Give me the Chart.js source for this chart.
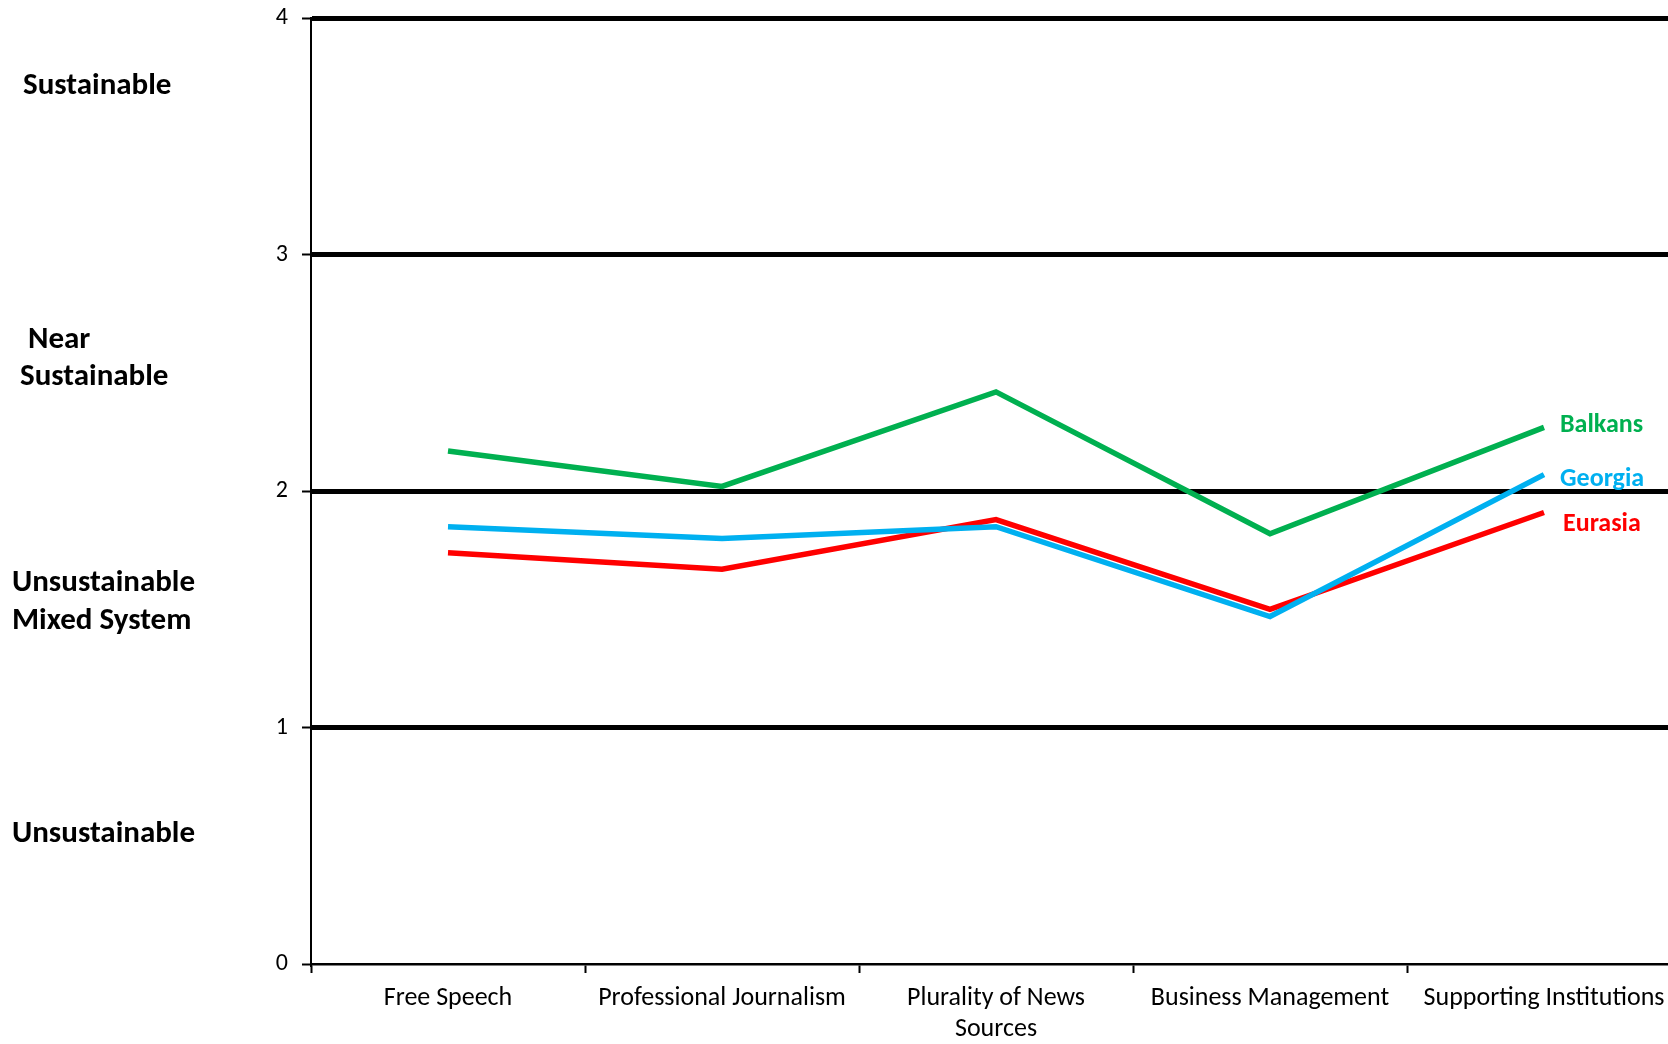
<!DOCTYPE html>
<html>
<head>
<meta charset="utf-8">
<script src="https://cdn.jsdelivr.net/npm/chart.js@4.4.0/dist/chart.umd.min.js"></script>
<style>
  html, body { margin: 0; padding: 0; background: #fff; overflow: hidden; }
  #wrap { width: 1668px; height: 1044px; overflow: hidden; }
  canvas { display: block; margin-top: -10px; }
</style>
</head>
<body>
<div id="wrap"><canvas id="myChart" width="1690" height="1054"></canvas></div>
<script>
// categories along the bottom
let categories = ['Free Speech', 'Professional Journalism', ['Plurality of News', 'Sources'], 'Business Management', 'Supporting Institutions'];

// scores
let balkans = [2.17, 2.02, 2.42, 1.82, 2.27];
let georgia = [1.85, 1.80, 1.85, 1.47, 2.07];
let eurasia = [1.74, 1.67, 1.88, 1.50, 1.91];

let yTicks = [0, 1, 2, 3, 4];

// band names on the left
let bandNames = [['Sustainable'], ['Near', 'Sustainable'], ['Unsustainable', 'Mixed System'], ['Unsustainable']];

let fontFamily = "Carlito, Lato, 'Open Sans', sans-serif";

// draws the band names and the series names at the line ends
let labelPlugin = {
    id: 'labels',
    afterDraw(chart) {
        let ctx = chart.ctx;
        let y = chart.scales.y;
        ctx.save();
        ctx.fillStyle = '#000';
        ctx.font = 'bold 31px ' + fontFamily;
        ctx.textBaseline = 'middle';
        ctx.textAlign = 'left';
        // value where each line of the band names sits, and its left edge
        let bandPos = [[3.72], [2.647, 2.49], [1.62, 1.46], [0.557]];
        let bandX = [[23], [28, 20], [12, 12], [12]];
        bandNames.forEach((lines, i) => {
            lines.forEach((t, j) => {
                ctx.fillText(t, bandX[i][j], y.getPixelForValue(bandPos[i][j]) + 2);
            });
        });

        ctx.font = 'bold 26px ' + fontFamily;
        let nudge = [-2, 5, 12];
        chart.data.datasets.forEach((ds, i) => {
            let meta = chart.getDatasetMeta(i);
            let last = meta.data[meta.data.length - 1];
            ctx.fillStyle = ds.borderColor;
            ctx.fillText(ds.label, last.x + (i == 2 ? 19 : 16), last.y + nudge[i]);
        });
        ctx.restore();
    }
};

var ctx = document.getElementById('myChart').getContext('2d');
var chart = new Chart(ctx, {
    type: 'line',
    data: {
        labels: categories,
        datasets: [
            { label: 'Balkans', data: balkans, borderColor: '#00b050', borderWidth: 5.5, pointRadius: 0, tension: 0 },
            { label: 'Georgia', data: georgia, borderColor: '#00b0f0', borderWidth: 5.5, pointRadius: 0, tension: 0 },
            { label: 'Eurasia', data: eurasia, borderColor: '#ff0000', borderWidth: 5.5, pointRadius: 0, tension: 0 }
        ]
    },
    options: {
        responsive: false,
        animation: false,
        layout: { padding: { top: 9, right: 9, bottom: 0, left: 0 } },
        plugins: { legend: { display: false }, tooltip: { enabled: false } },
        scales: {
            x: {
                offset: true,
                grid: { offset: true, drawOnChartArea: false, drawTicks: true, tickLength: 9, tickColor: '#000', tickWidth: 2 },
                border: { color: '#000', width: 2.5 },
                ticks: { color: '#000', font: { family: fontFamily, size: 26, lineHeight: 1.2 }, padding: 10, maxRotation: 0, autoSkip: false },
                afterFit: scale => { scale.height = 80; }
            },
            y: {
                min: 0,
                max: 4,
                afterBuildTicks: scale => { scale.ticks = yTicks.map(v => ({ value: v })); },
                grid: {
                    color: c => c.tick && c.tick.value === 0 ? 'rgba(0,0,0,0)' : '#000',
                    lineWidth: 5,
                    drawTicks: true,
                    tickLength: 9,
                    tickColor: '#000',
                    tickWidth: 2
                },
                border: { color: '#000', width: 2 },
                ticks: { color: '#000', font: { family: fontFamily, size: 24 }, padding: 14 },
                afterFit: scale => { scale.width = 311; }
            }
        }
    },
    plugins: [labelPlugin]
});
</script>
</body>
</html>
